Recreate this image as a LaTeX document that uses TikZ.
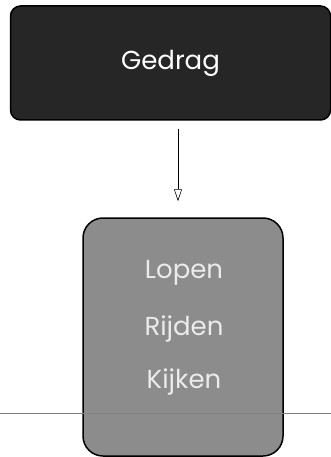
\documentclass[tikz,border=0pt]{standalone}
\usepackage{fontspec}
\setmainfont{Poppins}
\usetikzlibrary{arrows.meta}
\usetikzlibrary{positioning}

\begin{document}
\begin{tikzpicture}[x=1pt,y=-1pt,
        box/.style={draw=black,line width=1.5pt,rounded corners=12pt,inner sep=0pt},
        word/.style={text=black!8,font=\fontsize{26}{30}\selectfont}]
        \useasboundingbox (0,0) rectangle (331,457);

        \node [box,fill=black!85,minimum width=320pt,minimum height=114pt,rounded corners=10pt,
               text=white,font=\fontsize{26}{30}\selectfont] (gedrag) at (170.5,63) {Gedrag};

        \node [box,fill=black!45,minimum width=200pt,minimum height=238pt,rounded corners=20pt] (soort) at (183,337) {};
        \node [word] (lopen) at (184,273) {Lopen};
        \node [word,below=56pt of lopen.center,anchor=center] (rijden) {Rijden};
        \node [word,below=53pt of rijden.center,anchor=center] (kijken) {Kijken};

        % doorlopende lijn onderaan
        \coordinate (links) at (0,413);
        \coordinate (rechts) at (331,413);
        \draw [black!50,line width=0.4pt] (links) -- (rechts);

        \coordinate (pijl) at (178,0);
        \draw [-{Triangle[open,length=12pt,width=8pt]},line width=0.6pt,shorten <=8pt,shorten >=16pt]
              (gedrag.south -| pijl) -- (soort.north -| pijl);
    \end{tikzpicture}
\end{document}
